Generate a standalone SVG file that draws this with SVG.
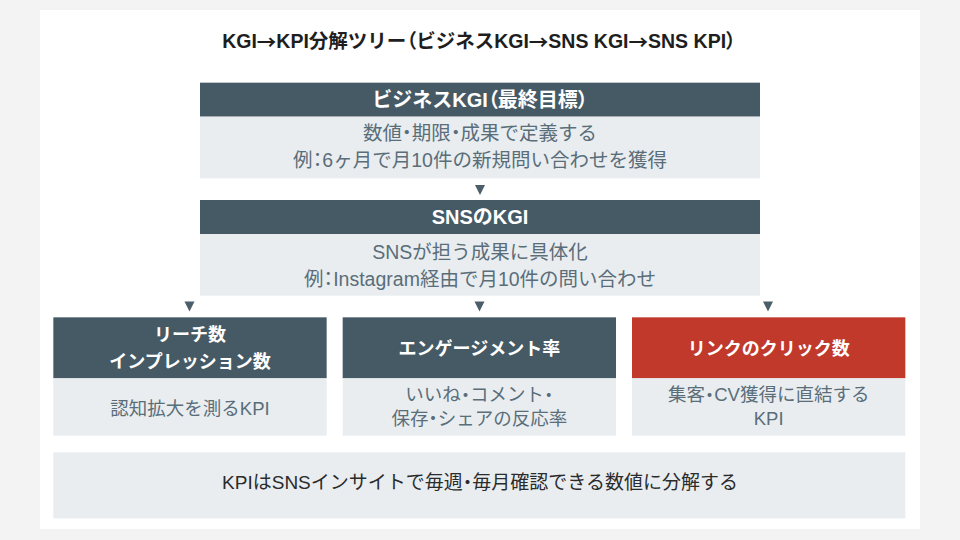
<svg xmlns="http://www.w3.org/2000/svg" width="960" height="540" viewBox="0 0 960 540">
<defs>
<style>
text{font-family:"Liberation Sans","Noto Sans CJK JP",sans-serif;text-anchor:middle;dominant-baseline:central}
.p{font-feature-settings:"palt"}
.cj{font-family:"Noto Sans CJK JP",sans-serif}
.title{font-size:19.5px;font-weight:bold;fill:#1e1e1e}
.hd{fill:#465a66}
.hdr{fill:#c0392b}
.bd{fill:#e9edf0}
.ht{font-size:20px;font-weight:bold;fill:#ffffff}
.hs{font-size:18px;font-weight:bold;fill:#ffffff}
.bt{font-size:19.5px;fill:#5a6e7a}
.bs{font-size:18.5px;fill:#5a6e7a}
.ft{font-size:19px;fill:#2b2b2b}
.arw{fill:#4b5e6a}
</style>
</defs>
<rect x="0" y="0" width="960" height="540" fill="#f3f3f3"/>
<rect x="40" y="10" width="880" height="519" fill="#ffffff"/>
<text class="title" x="479" y="41">KGI<tspan class="cj">→</tspan>KPI分解ツリー<tspan class="p">（</tspan>ビジネスKGI<tspan class="cj">→</tspan>SNS KGI<tspan class="cj">→</tspan>SNS KPI<tspan class="p">）</tspan></text>

<g id="connectors">
<path class="arw" d="M475,185 L485,185 L480,195 Z"/>
<path class="arw" d="M184.5,301.5 L194.5,301.5 L189.5,311.5 Z"/>
<path class="arw" d="M474.5,301.5 L484.5,301.5 L479.5,311.5 Z"/>
<path class="arw" d="M763,301.5 L773,301.5 L768,311.5 Z"/>
</g>

<g id="node-business-kgi">
<rect class="hd" x="200" y="82.67" width="560" height="34"/>
<rect class="bd" x="200" y="116.67" width="560" height="61.67"/>
<text class="ht" x="480" y="100">ビジネスKGI<tspan class="p">（</tspan>最終目標<tspan class="p">）</tspan></text>
<text class="bt" x="480" y="133">数値<tspan class="p">・</tspan>期限<tspan class="p">・</tspan>成果で定義する</text>
<text class="bt" x="480" y="160">例<tspan class="p">：</tspan>6ヶ月で月10件の新規問い合わせを獲得</text>
</g>

<g id="node-sns-kgi">
<rect class="hd" x="200" y="200" width="560" height="34"/>
<rect class="bd" x="200" y="234" width="560" height="61.67"/>
<text class="ht" x="480" y="217">SNSのKGI</text>
<text class="bt" x="480" y="251.5">SNSが担う成果に具体化</text>
<text class="bt" x="480" y="278.5">例<tspan class="p">：</tspan>Instagram経由で月10件の問い合わせ</text>
</g>

<g id="node-reach">
<rect class="hd" x="53.33" y="317.33" width="273.33" height="61"/>
<rect class="bd" x="53.33" y="378.33" width="273.33" height="57.33"/>
<text class="hs" x="190" y="335">リーチ数</text>
<text class="hs" x="190" y="362">インプレッション数</text>
<text class="bs" x="190" y="408">認知拡大を測るKPI</text>
</g>

<g id="node-engagement">
<rect class="hd" x="342.67" y="317.33" width="273.33" height="61"/>
<rect class="bd" x="342.67" y="378.33" width="273.33" height="57.33"/>
<text class="hs" x="479.33" y="348.5">エンゲージメント率</text>
<text class="bs" x="479.33" y="394.5">いいね<tspan class="p">・</tspan>コメント<tspan class="p">・</tspan></text>
<text class="bs" x="479.33" y="418">保存<tspan class="p">・</tspan>シェアの反応率</text>
</g>

<g id="node-link-click">
<rect class="hdr" x="632" y="317.33" width="273.33" height="61"/>
<rect class="bd" x="632" y="378.33" width="273.33" height="57.33"/>
<text class="hs" x="768.67" y="348.5">リンクのクリック数</text>
<text class="bs" x="768.67" y="394.5">集客<tspan class="p">・</tspan>CV獲得に直結する</text>
<text class="bs" x="768.67" y="418">KPI</text>
</g>

<g id="node-footer">
<rect class="bd" x="53.33" y="452.33" width="852" height="66"/>
<text class="ft" x="480" y="482.5">KPIはSNSインサイトで毎週<tspan class="p">・</tspan>毎月確認できる数値に分解する</text>
</g>
</svg>
